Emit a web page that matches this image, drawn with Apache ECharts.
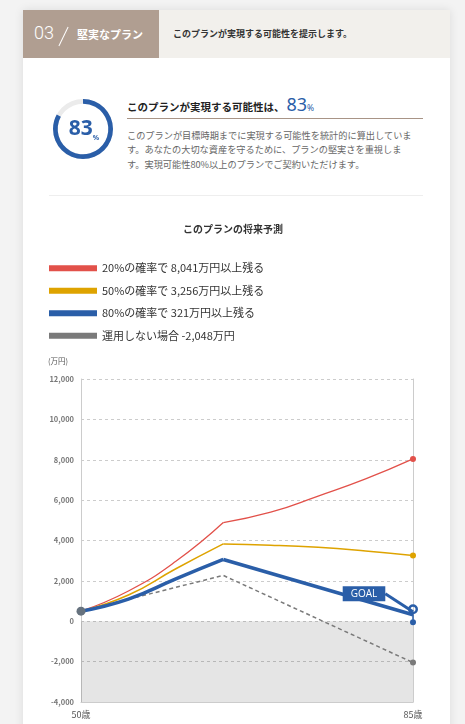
<!DOCTYPE html>
<html>
<head>
<meta charset="utf-8">
<script src="https://cdn.jsdelivr.net/npm/echarts@6/dist/echarts.min.js"></script>
<style>
  body { margin: 0; width: 465px; height: 724px; overflow: hidden; position: relative; background: #f3f3f3; font-family: 'Noto Sans CJK JP', 'Noto Sans', sans-serif; }
  .tarjeta { position: absolute; left: 23px; top: 10px; width: 427px; height: 730px; background: #fff; box-shadow: 0 0 9px rgba(0,0,0,0.10); }
  .cab-izq { position: absolute; left: 23px; top: 10px; width: 136px; height: 48px; background: #b09e91; }
  .cab-der { position: absolute; left: 159px; top: 10px; width: 291px; height: 48px; background: #f2f0ec; }
  .num-sec { position: absolute; left: 34px; top: 22px; font: 300 18px 'Roboto', sans-serif; color: #fff; line-height: 22px; }
  .barra { position: absolute; left: 63px; top: 26px; width: 1px; height: 21px; background: #fff; transform: rotate(26deg); }
  .sec-titulo { position: absolute; left: 77px; top: 26px; font-size: 11px; font-weight: bold; color: #fff; line-height: 16px; }
  .sec-desc { position: absolute; left: 173px; top: 27px; font-size: 9px; font-weight: bold; color: #333; line-height: 14px; }
  #gauge { position: absolute; left: 48px; top: 94px; width: 70px; height: 70px; }
  .titulo { position: absolute; left: 127px; top: 92px; font-size: 10.5px; font-weight: bold; color: #222; white-space: nowrap; }
  .titulo .n { font: 18px 'Noto Sans', sans-serif; color: #2a5ea8; margin-left: 2px; }
  .titulo .p { font: 8.5px 'Noto Sans', sans-serif; color: #2a5ea8; }
  .linea { position: absolute; left: 127px; top: 118px; width: 296px; height: 1px; background: #a89486; }
  .parrafo { position: absolute; left: 127px; top: 128px; font-size: 9.2px; color: #666; line-height: 14.3px; white-space: nowrap; }
  .sep { position: absolute; left: 49px; top: 195px; width: 374px; height: 1px; background: #eee; }
  #main { position: absolute; left: 0; top: 215px; width: 465px; height: 509px; }
</style>
</head>
<body>
<div class="tarjeta"></div>
<div class="cab-izq"></div>
<div class="cab-der"></div>
<div class="num-sec">03</div>
<div class="barra"></div>
<div class="sec-titulo">堅実なプラン</div>
<div class="sec-desc">このプランが実現する可能性を提示します。</div>
<div id="gauge"></div>
<div class="titulo">このプランが実現する可能性は、<span class="n">83</span><span class="p">%</span></div>
<div class="linea"></div>
<div class="parrafo">このプランが目標時期までに実現する可能性を統計的に算出していま<br>す。あなたの大切な資産を守るために、プランの堅実さを重視しま<br>す。実現可能性80%以上のプランでご契約いただけます。</div>
<div class="sep"></div>
<div id="main"></div>
<script>
// Datos
var probabilidad = 83;
var edades = [50, 55, 60, 65, 70, 75, 80, 85];
var edadPico = 65;
var valores20 = [500, 1500, 2970, 4890, 5400, 6200, 7050, 8041];
var valores50 = [500, 1300, 2600, 3830, 3770, 3660, 3480, 3256];
var edadesAzul = [50, 55, 60, 65, 85];
var valores80 = [500, 1100, 2100, 3060, 321];
var edadesGris = [50, 65, 85];
var valoresSinInversion = [500, 2270, -2048];
var nombres = [
  '20%の確率で 8,041万円以上残る',
  '50%の確率で 3,256万円以上残る',
  '80%の確率で 321万円以上残る',
  '運用しない場合 -2,048万円'
];
var edadesEtiqueta = [50, 85];
var yMin = -4000, yMax = 12000, yPaso = 2000;

var AZUL = '#2a5ea8';
// simbolo tipo "pin" para la meta
var pin = 'path://M10,0 A10,10 0 1,1 10,20 A10,10 0 1,1 10,0 Z M10,5 A5,5 0 1,0 10,15 A5,5 0 1,0 10,5 Z M8.5,19 L11.5,19 L11.5,32 L8.5,32 Z M10,30 A6,6 0 1,1 10,42 A6,6 0 1,1 10,30 Z';

/* Devuelve los puntos entre dos edades */
function tramo(xs, ys, desde, hasta) {
  var res = [];
  for (var i = 0; i < xs.length; i++) {
    if (xs[i] >= desde && xs[i] <= hasta) {
      res.push({ value: [xs[i], ys[i]] });
    }
  }
  return res;
}

function serie(nombre, color, ancho, datos, suave, z) {
  return {
    name: nombre,
    type: 'line',
    data: datos,
    smooth: suave,
    symbol: 'none',
    color: color,
    lineStyle: { color: color, width: ancho },
    z: z
  };
}

// ---- gauge ----
var gauge = echarts.init(document.getElementById('gauge'));
gauge.setOption({
  animation: false,
  series: [{
    type: 'gauge',
    startAngle: 90,
    endAngle: -270,
    min: 0,
    max: 100,
    radius: 30,
    center: ['50%', '50%'],
    pointer: { show: false },
    progress: { show: true, width: 4.7, itemStyle: { color: AZUL } },
    axisLine: { lineStyle: { width: 4.7, color: [[1, '#ebebeb']] } },
    splitLine: { show: false },
    axisTick: { show: false },
    axisLabel: { show: false },
    title: { show: false },
    detail: {
      offsetCenter: [1, 0],
      formatter: '{a|{value}}{b|%}',
      rich: {
        a: { fontSize: 21, color: AZUL, fontFamily: 'Noto Sans', lineHeight: 24 },
        b: { fontSize: 7, color: AZUL, fontFamily: 'Noto Sans', verticalAlign: 'bottom', lineHeight: 24, padding: [8, 0, 0, 0] }
      }
    },
    data: [{ value: probabilidad }]
  }]
});

// ---- grafico principal ----
var rojoSubida = tramo(edades, valores20, 50, edadPico);
var rojoBajada = tramo(edades, valores20, edadPico, 85);
rojoBajada[rojoBajada.length - 1].symbol = 'circle';
rojoBajada[rojoBajada.length - 1].symbolSize = 6;

var amarilloSubida = tramo(edades, valores50, 50, edadPico);
var amarilloBajada = tramo(edades, valores50, edadPico, 85);
amarilloBajada[amarilloBajada.length - 1].symbol = 'circle';
amarilloBajada[amarilloBajada.length - 1].symbolSize = 6;

var azulSubida = tramo(edadesAzul, valores80, 50, edadPico);
azulSubida[0].symbol = 'circle';
azulSubida[0].symbolSize = 9;
azulSubida[0].itemStyle = { color: '#66727e' };
var azulBajada = tramo(edadesAzul, valores80, edadPico, 85);
var meta = azulBajada[azulBajada.length - 1];
meta.symbol = pin;
meta.symbolSize = [10, 21];
meta.label = {
  show: true,
  position: 'inside',
  formatter: 'GOAL',
  color: '#fff',
  fontSize: 10,
  fontFamily: 'Open Sans',
  backgroundColor: AZUL,
  padding: [3, 8, 2, 8]
};

var gris = tramo(edadesGris, valoresSinInversion, 50, 85);
gris[gris.length - 1].symbol = 'circle';
gris[gris.length - 1].symbolSize = 6;

var serieGris = serie(nombres[3], '#7a7a7a', 1.5, gris, false, 2);
serieGris.lineStyle.type = [4, 3];
serieGris.markArea = {
  silent: true,
  itemStyle: { color: 'rgba(0,0,0,0.10)' },
  data: [[{ yAxis: yMin }, { yAxis: 0 }]]
};

var serieMeta = serie(nombres[2], AZUL, 3.5, azulBajada, false, 3);
serieMeta.labelLayout = { dx: -49, dy: -21 };
serieMeta.labelLine = { show: true, lineStyle: { color: AZUL, width: 3 } };

var chart = echarts.init(document.getElementById('main'));
chart.setOption({
  animation: false,
  textStyle: { fontFamily: 'Noto Sans CJK JP' },
  title: {
    text: 'このプランの将来予測',
    left: 183,
    top: 9,
    padding: 0,
    textStyle: { fontSize: 10, fontWeight: 'bold', color: '#333' }
  },
  legend: {
    data: nombres,
    orient: 'vertical',
    left: 49,
    top: 46,
    padding: 0,
    icon: 'rect',
    itemWidth: 48,
    itemHeight: 6,
    itemGap: 8,
    textStyle: { fontSize: 11, color: '#333', lineHeight: 14.5 }
  },
  grid: { left: 81, right: 52, top: 164, bottom: 22 },
  xAxis: {
    type: 'value',
    min: 50,
    max: 85,
    interval: 5,
    axisLine: { onZero: false, lineStyle: { color: '#ccc' } },
    axisTick: { show: false },
    splitLine: { show: false },
    axisLabel: {
      margin: 8,
      fontSize: 9,
      color: '#555',
      formatter: function (v) {
        return edadesEtiqueta.indexOf(v) >= 0 ? v + '歳' : '';
      }
    }
  },
  yAxis: [
    {
      type: 'value',
      min: yMin,
      max: yMax,
      interval: yPaso,
      name: '(万円)',
      nameLocation: 'end',
      nameGap: 14,
      nameTextStyle: { fontSize: 7.5, color: '#555', align: 'right', padding: [0, 13, 0, 0] },
      axisLine: { show: true, lineStyle: { color: '#ccc' } },
      axisTick: { show: false },
      splitLine: { lineStyle: { color: '#ccc', type: [3, 3] } },
      axisLabel: {
        margin: 7,
        fontSize: 7.5,
        fontWeight: 'bold',
        color: '#777',
        formatter: function (v) { return v.toLocaleString('en-US'); }
      }
    },
    {
      type: 'value',
      min: yMin,
      max: yMax,
      interval: yPaso,
      position: 'right',
      axisLine: { show: true, lineStyle: { color: '#ccc' } },
      axisTick: { show: false },
      axisLabel: { show: false },
      splitLine: { show: false }
    }
  ],
  series: [
    serie(nombres[0], '#e2514a', 1.3, rojoSubida, true, 2),
    serie(nombres[0], '#e2514a', 1.3, rojoBajada, true, 2),
    serie(nombres[1], '#dea300', 1.5, amarilloSubida, true, 2),
    serie(nombres[1], '#dea300', 1.5, amarilloBajada, true, 2),
    serieGris,
    serie(nombres[2], AZUL, 3.5, azulSubida, true, 3),
    serieMeta
  ]
});
</script>
</body>
</html>
